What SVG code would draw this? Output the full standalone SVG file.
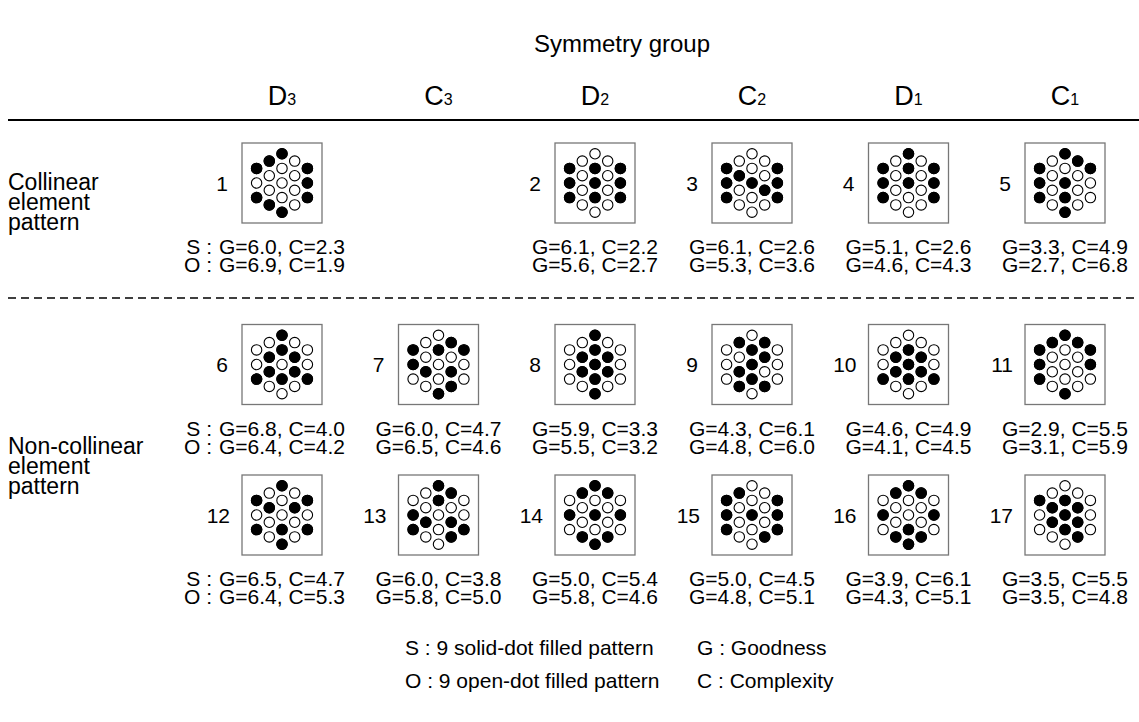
<svg xmlns="http://www.w3.org/2000/svg" xmlns:xlink="http://www.w3.org/1999/xlink" width="1139" height="722" viewBox="0 0 1139 722">
<style>
text{font-family:"Liberation Sans",Arial,Helvetica,sans-serif;fill:#000}
.t{font-size:21px}
.c{font-size:21px;text-anchor:middle}
.lab{font-size:23px}
.ttl{font-size:24px;text-anchor:middle}
.hd{font-size:27px;text-anchor:middle}
.sub{font-size:16px}
.num{font-size:21px;text-anchor:end}
.box{fill:#fff;stroke:#777;stroke-width:1.3}
.o{fill:#fff;stroke:#000;stroke-width:1.1}
.s{fill:#000;stroke:#000;stroke-width:1.1}
.rule{stroke:#000;stroke-width:2;fill:none}
.dash{stroke:#000;stroke-width:1.5;stroke-dasharray:8 5;fill:none}
</style>
<defs>
<circle id="q1" cx="0" cy="-29.2" r="5.2"/>
<circle id="q2" cx="-12.7" cy="-21.9" r="5.2"/>
<circle id="q3" cx="12.7" cy="-21.9" r="5.2"/>
<circle id="q4" cx="-25.4" cy="-14.6" r="5.2"/>
<circle id="q5" cx="0" cy="-14.6" r="5.2"/>
<circle id="q6" cx="25.4" cy="-14.6" r="5.2"/>
<circle id="q7" cx="-12.7" cy="-7.3" r="5.2"/>
<circle id="q8" cx="12.7" cy="-7.3" r="5.2"/>
<circle id="q9" cx="-25.4" cy="0" r="5.2"/>
<circle id="q10" cx="0" cy="0" r="5.2"/>
<circle id="q11" cx="25.4" cy="0" r="5.2"/>
<circle id="q12" cx="-12.7" cy="7.3" r="5.2"/>
<circle id="q13" cx="12.7" cy="7.3" r="5.2"/>
<circle id="q14" cx="-25.4" cy="14.6" r="5.2"/>
<circle id="q15" cx="0" cy="14.6" r="5.2"/>
<circle id="q16" cx="25.4" cy="14.6" r="5.2"/>
<circle id="q17" cx="-12.7" cy="21.9" r="5.2"/>
<circle id="q18" cx="12.7" cy="21.9" r="5.2"/>
<circle id="q19" cx="0" cy="29.2" r="5.2"/>
<g id="hex" class="o">
<use href="#q1"/><use href="#q2"/><use href="#q3"/><use href="#q4"/><use href="#q5"/><use href="#q6"/><use href="#q7"/><use href="#q8"/><use href="#q9"/><use href="#q10"/><use href="#q11"/><use href="#q12"/><use href="#q13"/><use href="#q14"/><use href="#q15"/><use href="#q16"/><use href="#q17"/><use href="#q18"/><use href="#q19"/>
</g>
</defs>

<rect x="0" y="0" width="1139" height="722" fill="#fff"/>

<text class="ttl" x="622" y="52">Symmetry group</text>

<g id="headers">
<text class="hd" x="282" y="105">D<tspan class="sub">3</tspan></text>
<text class="hd" x="438.5" y="105">C<tspan class="sub">3</tspan></text>
<text class="hd" x="595" y="105">D<tspan class="sub">2</tspan></text>
<text class="hd" x="752" y="105">C<tspan class="sub">2</tspan></text>
<text class="hd" x="908.5" y="105">D<tspan class="sub">1</tspan></text>
<text class="hd" x="1065" y="105">C<tspan class="sub">1</tspan></text>
</g>

<g id="connectors">
<line class="rule" x1="8" y1="120" x2="1139" y2="120"/>
<line class="dash" x1="8" y1="298" x2="1139" y2="298"/>
</g>

<g id="row-labels">
<text class="lab" x="8" y="190">Collinear</text>
<text class="lab" x="8" y="210">element</text>
<text class="lab" x="8" y="230">pattern</text>
<text class="lab" x="8" y="454">Non-collinear</text>
<text class="lab" x="8" y="474">element</text>
<text class="lab" x="8" y="494">pattern</text>
</g>

<g id="n1" transform="translate(282,183)"><rect class="box" x="-40" y="-40" width="80" height="80"/><use href="#hex"/><g class="s"><use href="#q1"/><use href="#q2"/><use href="#q4"/><use href="#q6"/><use href="#q11"/><use href="#q14"/><use href="#q16"/><use href="#q17"/><use href="#q19"/></g><text class="num" x="-54" y="7.5">1</text></g>
<g id="n2" transform="translate(595,183)"><rect class="box" x="-40" y="-40" width="80" height="80"/><use href="#hex"/><g class="s"><use href="#q4"/><use href="#q5"/><use href="#q6"/><use href="#q9"/><use href="#q10"/><use href="#q11"/><use href="#q14"/><use href="#q15"/><use href="#q16"/></g><text class="num" x="-54" y="7.5">2</text></g>
<g id="n3" transform="translate(752,183)"><rect class="box" x="-40" y="-40" width="80" height="80"/><use href="#hex"/><g class="s"><use href="#q4"/><use href="#q6"/><use href="#q7"/><use href="#q9"/><use href="#q10"/><use href="#q11"/><use href="#q13"/><use href="#q14"/><use href="#q16"/></g><text class="num" x="-54" y="7.5">3</text></g>
<g id="n4" transform="translate(908.5,183)"><rect class="box" x="-40" y="-40" width="80" height="80"/><use href="#hex"/><g class="s"><use href="#q1"/><use href="#q4"/><use href="#q5"/><use href="#q6"/><use href="#q9"/><use href="#q10"/><use href="#q11"/><use href="#q14"/><use href="#q16"/></g><text class="num" x="-54" y="7.5">4</text></g>
<g id="n5" transform="translate(1065,183)"><rect class="box" x="-40" y="-40" width="80" height="80"/><use href="#hex"/><g class="s"><use href="#q1"/><use href="#q3"/><use href="#q4"/><use href="#q6"/><use href="#q9"/><use href="#q10"/><use href="#q14"/><use href="#q15"/><use href="#q19"/></g><text class="num" x="-54" y="7.5">5</text></g>

<g id="n6" transform="translate(282,364.5)"><rect class="box" x="-40" y="-40" width="80" height="80"/><use href="#hex"/><g class="s"><use href="#q1"/><use href="#q5"/><use href="#q7"/><use href="#q8"/><use href="#q12"/><use href="#q13"/><use href="#q14"/><use href="#q15"/><use href="#q16"/></g><text class="num" x="-54" y="7.5">6</text></g>
<g id="n7" transform="translate(438.5,364.5)"><rect class="box" x="-40" y="-40" width="80" height="80"/><use href="#hex"/><g class="s"><use href="#q3"/><use href="#q4"/><use href="#q5"/><use href="#q6"/><use href="#q9"/><use href="#q12"/><use href="#q13"/><use href="#q18"/><use href="#q19"/></g><text class="num" x="-54" y="7.5">7</text></g>
<g id="n8" transform="translate(595,364.5)"><rect class="box" x="-40" y="-40" width="80" height="80"/><use href="#hex"/><g class="s"><use href="#q1"/><use href="#q5"/><use href="#q7"/><use href="#q8"/><use href="#q10"/><use href="#q12"/><use href="#q13"/><use href="#q15"/><use href="#q19"/></g><text class="num" x="-54" y="7.5">8</text></g>
<g id="n9" transform="translate(752,364.5)"><rect class="box" x="-40" y="-40" width="80" height="80"/><use href="#hex"/><g class="s"><use href="#q2"/><use href="#q3"/><use href="#q5"/><use href="#q8"/><use href="#q10"/><use href="#q12"/><use href="#q15"/><use href="#q17"/><use href="#q18"/></g><text class="num" x="-54" y="7.5">9</text></g>
<g id="n10" transform="translate(908.5,364.5)"><rect class="box" x="-40" y="-40" width="80" height="80"/><use href="#hex"/><g class="s"><use href="#q5"/><use href="#q7"/><use href="#q8"/><use href="#q10"/><use href="#q12"/><use href="#q13"/><use href="#q14"/><use href="#q15"/><use href="#q16"/></g><text class="num" x="-52" y="7.5">10</text></g>
<g id="n11" transform="translate(1065,364.5)"><rect class="box" x="-40" y="-40" width="80" height="80"/><use href="#hex"/><g class="s"><use href="#q1"/><use href="#q2"/><use href="#q3"/><use href="#q4"/><use href="#q6"/><use href="#q9"/><use href="#q11"/><use href="#q14"/><use href="#q19"/></g><text class="num" x="-52" y="7.5">11</text></g>

<g id="n12" transform="translate(282,515)"><rect class="box" x="-40" y="-40" width="80" height="80"/><use href="#hex"/><g class="s"><use href="#q1"/><use href="#q4"/><use href="#q6"/><use href="#q7"/><use href="#q8"/><use href="#q14"/><use href="#q15"/><use href="#q16"/><use href="#q19"/></g><text class="num" x="-52" y="7.5">12</text></g>
<g id="n13" transform="translate(438.5,515)"><rect class="box" x="-40" y="-40" width="80" height="80"/><use href="#hex"/><g class="s"><use href="#q1"/><use href="#q3"/><use href="#q5"/><use href="#q9"/><use href="#q12"/><use href="#q13"/><use href="#q14"/><use href="#q16"/><use href="#q18"/></g><text class="num" x="-52" y="7.5">13</text></g>
<g id="n14" transform="translate(595,515)"><rect class="box" x="-40" y="-40" width="80" height="80"/><use href="#hex"/><g class="s"><use href="#q1"/><use href="#q2"/><use href="#q3"/><use href="#q9"/><use href="#q10"/><use href="#q11"/><use href="#q17"/><use href="#q18"/><use href="#q19"/></g><text class="num" x="-52" y="7.5">14</text></g>
<g id="n15" transform="translate(752,515)"><rect class="box" x="-40" y="-40" width="80" height="80"/><use href="#hex"/><g class="s"><use href="#q2"/><use href="#q4"/><use href="#q6"/><use href="#q9"/><use href="#q10"/><use href="#q11"/><use href="#q14"/><use href="#q16"/><use href="#q18"/></g><text class="num" x="-52" y="7.5">15</text></g>
<g id="n16" transform="translate(908.5,515)"><rect class="box" x="-40" y="-40" width="80" height="80"/><use href="#hex"/><g class="s"><use href="#q1"/><use href="#q2"/><use href="#q3"/><use href="#q9"/><use href="#q11"/><use href="#q15"/><use href="#q17"/><use href="#q18"/><use href="#q19"/></g><text class="num" x="-52" y="7.5">16</text></g>
<g id="n17" transform="translate(1065,515)"><rect class="box" x="-40" y="-40" width="80" height="80"/><use href="#hex"/><g class="s"><use href="#q4"/><use href="#q5"/><use href="#q7"/><use href="#q8"/><use href="#q10"/><use href="#q12"/><use href="#q13"/><use href="#q15"/><use href="#q18"/></g><text class="num" x="-52" y="7.5">17</text></g>

<g id="scores">
<text class="t" x="212" y="254" text-anchor="end">S :</text>
<text class="t" x="212" y="272" text-anchor="end">O :</text>
<text class="c" x="282" y="254">G=6.0, C=2.3</text>
<text class="c" x="282" y="272">G=6.9, C=1.9</text>
<text class="c" x="595" y="254">G=6.1, C=2.2</text>
<text class="c" x="595" y="272">G=5.6, C=2.7</text>
<text class="c" x="752" y="254">G=6.1, C=2.6</text>
<text class="c" x="752" y="272">G=5.3, C=3.6</text>
<text class="c" x="908.5" y="254">G=5.1, C=2.6</text>
<text class="c" x="908.5" y="272">G=4.6, C=4.3</text>
<text class="c" x="1065" y="254">G=3.3, C=4.9</text>
<text class="c" x="1065" y="272">G=2.7, C=6.8</text>

<text class="t" x="212" y="436" text-anchor="end">S :</text>
<text class="t" x="212" y="454" text-anchor="end">O :</text>
<text class="c" x="282" y="436">G=6.8, C=4.0</text>
<text class="c" x="282" y="454">G=6.4, C=4.2</text>
<text class="c" x="438.5" y="436">G=6.0, C=4.7</text>
<text class="c" x="438.5" y="454">G=6.5, C=4.6</text>
<text class="c" x="595" y="436">G=5.9, C=3.3</text>
<text class="c" x="595" y="454">G=5.5, C=3.2</text>
<text class="c" x="752" y="436">G=4.3, C=6.1</text>
<text class="c" x="752" y="454">G=4.8, C=6.0</text>
<text class="c" x="908.5" y="436">G=4.6, C=4.9</text>
<text class="c" x="908.5" y="454">G=4.1, C=4.5</text>
<text class="c" x="1065" y="436">G=2.9, C=5.5</text>
<text class="c" x="1065" y="454">G=3.1, C=5.9</text>

<text class="t" x="212" y="586" text-anchor="end">S :</text>
<text class="t" x="212" y="604" text-anchor="end">O :</text>
<text class="c" x="282" y="586">G=6.5, C=4.7</text>
<text class="c" x="282" y="604">G=6.4, C=5.3</text>
<text class="c" x="438.5" y="586">G=6.0, C=3.8</text>
<text class="c" x="438.5" y="604">G=5.8, C=5.0</text>
<text class="c" x="595" y="586">G=5.0, C=5.4</text>
<text class="c" x="595" y="604">G=5.8, C=4.6</text>
<text class="c" x="752" y="586">G=5.0, C=4.5</text>
<text class="c" x="752" y="604">G=4.8, C=5.1</text>
<text class="c" x="908.5" y="586">G=3.9, C=6.1</text>
<text class="c" x="908.5" y="604">G=4.3, C=5.1</text>
<text class="c" x="1065" y="586">G=3.5, C=5.5</text>
<text class="c" x="1065" y="604">G=3.5, C=4.8</text>
</g>

<g id="legend">
<text class="t" x="405" y="655">S : 9 solid-dot filled pattern</text>
<text class="t" x="405" y="688">O : 9 open-dot filled pattern</text>
<text class="t" x="697" y="655">G : Goodness</text>
<text class="t" x="697" y="688">C : Complexity</text>
</g>
</svg>
